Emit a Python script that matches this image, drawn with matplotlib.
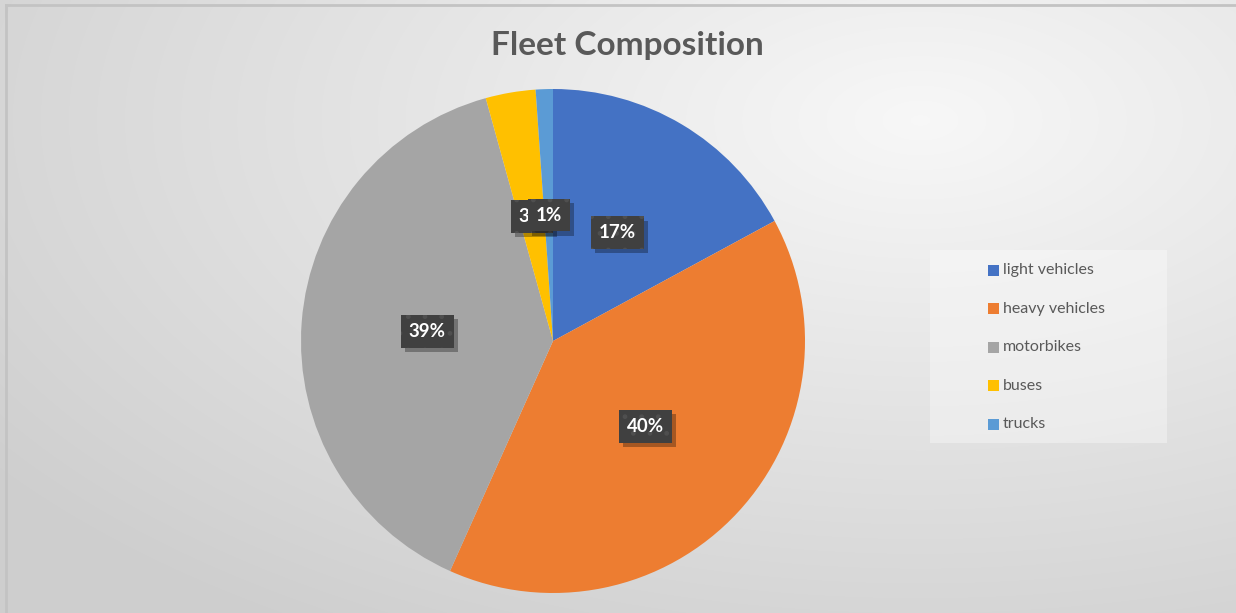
import matplotlib.pyplot as plt
import numpy as np
from matplotlib.patches import Rectangle

# Fleet shares (percent)
categories = ["light vehicles", "heavy vehicles", "motorbikes", "buses", "trucks"]
shares = [17.1, 39.6, 39.0, 3.2, 1.1]
colors = ["#4472C4", "#ED7D31", "#A5A5A5", "#FFC000", "#5B9BD5"]

W, H = 1236, 613
plt.rcParams['font.family'] = ['Lato', 'DejaVu Sans']

fig = plt.figure(figsize=(W / 100, H / 100), dpi=100)
ax = fig.add_axes([0, 0, 1, 1])
ax.axis('off')

# Soft gray background, brightest toward the upper right
xx, yy = np.meshgrid(np.arange(W), np.arange(H))
d = np.sqrt((xx - 920.0) ** 2 + ((yy - 120.0) * 1.9) ** 2)
shade = np.clip(0.97 - 0.13 * d / 930.0, 0.81, 1.0)
bg = np.dstack([shade, shade, shade])
ax.imshow(bg, extent=(0, W, 0, H), origin='upper', zorder=0,
          interpolation='bilinear')

# Chart border (top and left edges)
ax.plot([6, W], [H - 5, H - 5], color='#c3c3c3', lw=2, zorder=1)
ax.plot([6, 6], [0, H - 5], color='#c3c3c3', lw=2, zorder=1)

cx, cy, r = 553, H - 341, 252
wedges, _, autotexts = ax.pie(
    shares, colors=colors, center=(cx, cy), radius=r, startangle=90,
    counterclock=False, autopct='%.0f%%', pctdistance=0.5,
    textprops=dict(color='white', fontsize=13.5, fontweight='bold'),
    wedgeprops=dict(linewidth=0))
ax.set_xlim(0, W)
ax.set_ylim(0, H)
ax.set_aspect('equal')

# Dark label boxes with a drop shadow
for i, t in enumerate(autotexts):
    x, y = t.get_position()
    t.set_zorder(5 + 2 * i)
    t.set_bbox(dict(boxstyle='square,pad=0.42', facecolor='#404040',
                    edgecolor='#4f4f4f', linewidth=0, hatch='.'))
    ax.annotate(t.get_text(), (x, y), xytext=(3, -3), textcoords='offset points',
                ha='center', va='center', fontsize=13.5, fontweight='bold',
                color='none', zorder=4 + 2 * i,
                bbox=dict(boxstyle='square,pad=0.42', facecolor='black',
                          alpha=0.3, linewidth=0))

ax.text(627, H - 45, "Fleet Composition", ha='center', va='center',
        fontsize=24, fontweight='bold', color='#595959', zorder=3)

# Legend panel
ax.add_patch(Rectangle((930, H - 443), 237, 193, facecolor='white',
                       alpha=0.35, edgecolor='none', zorder=2))
for i, (name, c) in enumerate(zip(categories, colors)):
    ly = H - (270 + 38.5 * i)
    ax.add_patch(Rectangle((988, ly - 5.5), 11, 11, facecolor=c,
                           edgecolor='none', zorder=3))
    ax.text(1003, ly, name, ha='left', va='center', fontsize=11.5,
            color='#595959', zorder=3)

fig.savefig('out.png', dpi=100)
